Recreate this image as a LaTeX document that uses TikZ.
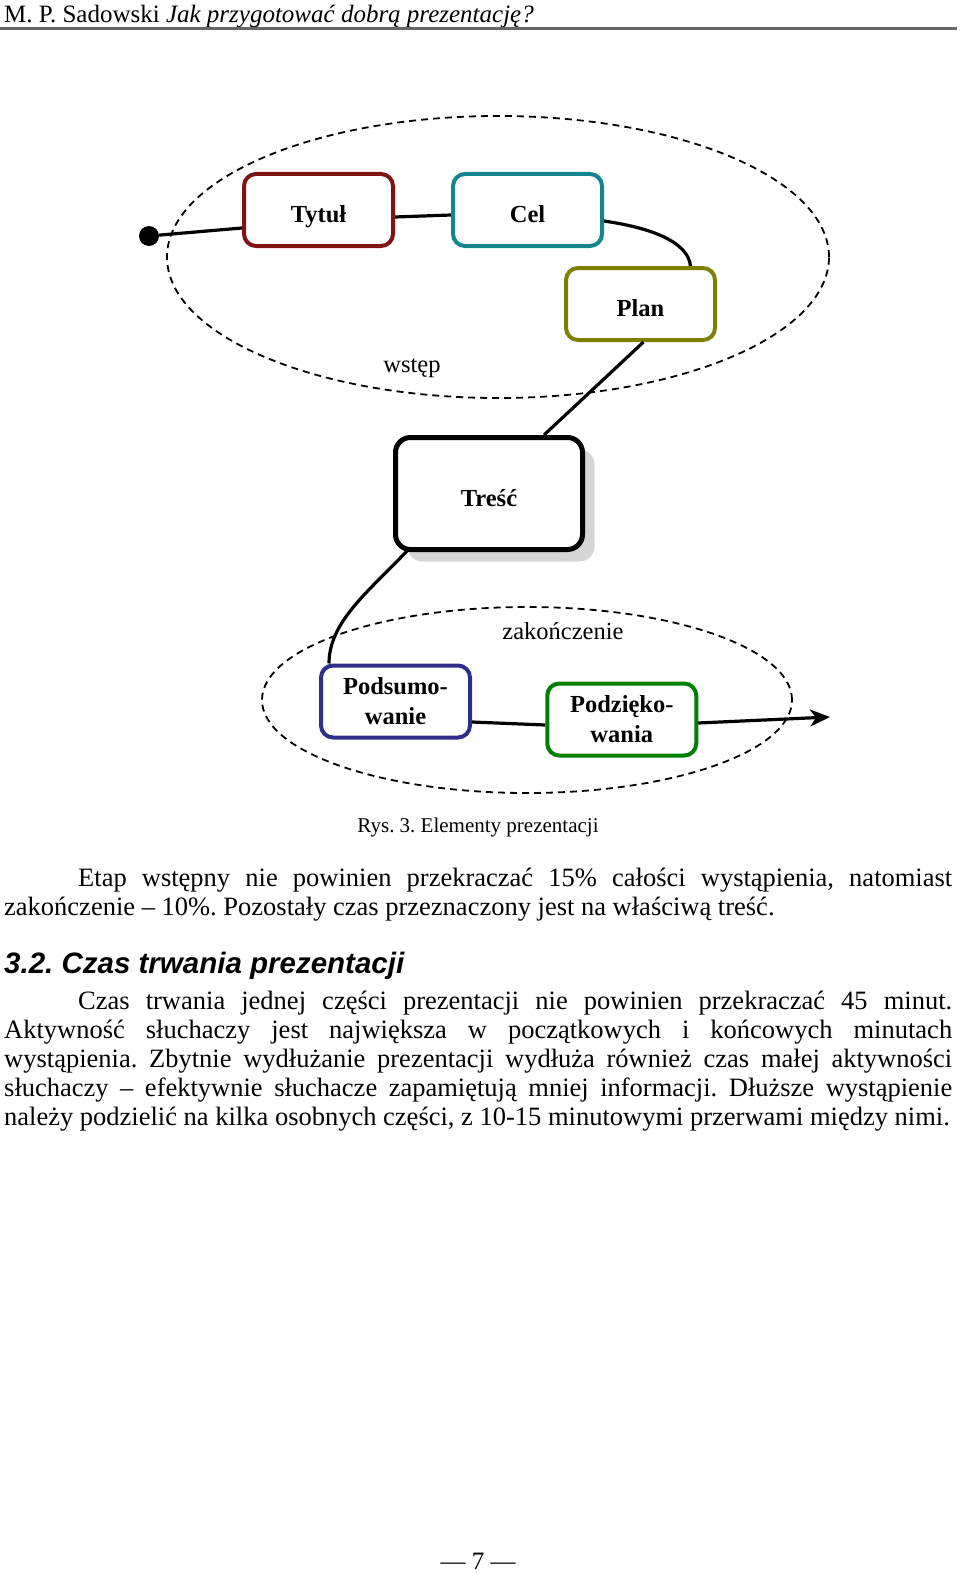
\documentclass[tikz,border=0pt]{standalone}
\usepackage{fontspec}
\setmainfont{Liberation Serif}
\setsansfont{Liberation Sans}
\usepackage{xcolor}
\usetikzlibrary{calc}
\usetikzlibrary{arrows.meta}
\usetikzlibrary{shadows}
\frenchspacing

\definecolor{titlered}{RGB}{128,20,20}
\definecolor{aimteal}{RGB}{18,134,140}
\definecolor{planolive}{RGB}{128,128,0}
\definecolor{sumblue}{RGB}{46,46,140}
\definecolor{thanksgreen}{RGB}{0,128,0}

\tikzset{
  part/.style={draw, rounded corners=12pt, line width=4pt, fill=white,
    minimum width=149pt, minimum height=72pt, inner sep=2pt, align=center,
    font=\fontsize{24.5}{30}\selectfont\bfseries},
  oneline/.style={text height=30pt, text depth=5pt},
  group/.style={dashed, dash pattern=on 7pt off 5pt, line width=1.8pt},
  link/.style={line width=3.2pt},
  label/.style={inner sep=0pt, font=\fontsize{24.5}{28}\selectfont},
  body/.style={anchor=base west, inner sep=0pt, text width=948pt, align=justify,
    font=\fontsize{26.5}{29}\selectfont},
}

\begin{document}
\begin{tikzpicture}[x=1pt, y=-1pt]
    % Page size
    \useasboundingbox (0,0) rectangle (960,1573);

    % Running head
    \node[anchor=base west, inner sep=0pt, font=\fontsize{25}{28}\selectfont] (head) at (4,23)
      {M. P. Sadowski \textit{Jak przygotować dobrą prezentację?}};
    \draw[black!60, line width=2.5pt] (0,28.5) -- (957,28.5);

    % Define the two groups
    \draw[group] (498,257) ellipse [x radius=331pt, y radius=141pt];
    \draw[group] (527,700) ellipse [x radius=265pt, y radius=93pt];
    \node[label] (intro) at (412,368) {wstęp};
    \node[label] (outro) at (563,631) {zakończenie};

    % Draw the parts
    \node[circle, fill, minimum size=20pt, inner sep=0pt] (start) at (149,236) {};
    \node[part, oneline, draw=titlered] (title) at (318.5,210) {Tytuł};
    \node[part, oneline, draw=aimteal] (aim) at (527.5,210) {Cel};
    \node[part, oneline, draw=planolive] (plan) at (640.5,304) {Plan};
    \node[part, oneline, line width=5pt, rounded corners=15pt, minimum width=187pt, minimum height=112pt,
      drop shadow={shadow xshift=12pt, shadow yshift=-12pt, fill=gray!65}] (body) at (489,493.5) {Treść};
    \node[part, draw=sumblue] (summary) at (395.5,701.5) {Podsumo-\\wanie};
    \node[part, draw=thanksgreen] (thanks) at (621.75,719.5) {Podzięko-\\wania};
    \coordinate (finish) at (830,717);

    % Connect the parts
    \draw[link] (start) -- ([yshift=-18pt]title.west);
    \draw[link] ([yshift=-7pt]title.east) -- ([yshift=-5pt]aim.west);
    \draw[link] ([yshift=-11pt]aim.east) .. controls (652,228) and (688,242) .. ([xshift=50pt]plan.north);
    \draw[link] ([xshift=3pt]plan.south) -- ([xshift=55pt]body.north);
    \draw[link] ([xshift=14pt,yshift=1pt]body.south west) .. controls (368,592) and (329,622) .. ([xshift=10pt]summary.north west);
    \draw[link] ([yshift=-20.5pt]summary.east) -- ([yshift=-5.5pt]thanks.west);
    \draw[link, -{Stealth[length=20pt, width=17pt, inset=6pt]}] ([yshift=-3.5pt]thanks.east) -- (finish);

    % Caption
    \node[anchor=base, inner sep=0pt, font=\fontsize{21}{24}\selectfont] (caption) at (478,832)
      {Rys. 3. Elementy prezentacji};

    % Text below the figure
    \node[body] (para1) at (4,886)
      {\hspace*{74pt}Etap wstępny nie powinien przekraczać 15\% całości wystąpienia, natomiast\linebreak
      zakończenie – 10\%. Pozostały czas przeznaczony jest na właściwą treść.};
    \node[anchor=base west, inner sep=0pt, font=\fontsize{29.5}{32}\selectfont\sffamily\bfseries\itshape] (sec) at (4,973)
      {3.2. Czas trwania prezentacji};
    \node[body] (para2) at (4,1009)
      {\parfillskip=0pt\hspace*{74pt}Czas trwania jednej części prezentacji nie powinien przekraczać 45 minut.\linebreak
      Aktywność słuchaczy jest największa w początkowych i końcowych minutach\linebreak
      wystąpienia. Zbytnie wydłużanie prezentacji wydłuża również czas małej aktywności\linebreak
      słuchaczy – efektywnie słuchacze zapamiętują mniej informacji. Dłuższe wystąpienie\linebreak
      należy podzielić na kilka osobnych części, z 10-15 minutowymi przerwami między nimi.};

    % Page number
    \node[anchor=base, inner sep=0pt, font=\fontsize{25}{28}\selectfont] (folio) at (478,1569) {— 7 —};
\end{tikzpicture}
\end{document}
